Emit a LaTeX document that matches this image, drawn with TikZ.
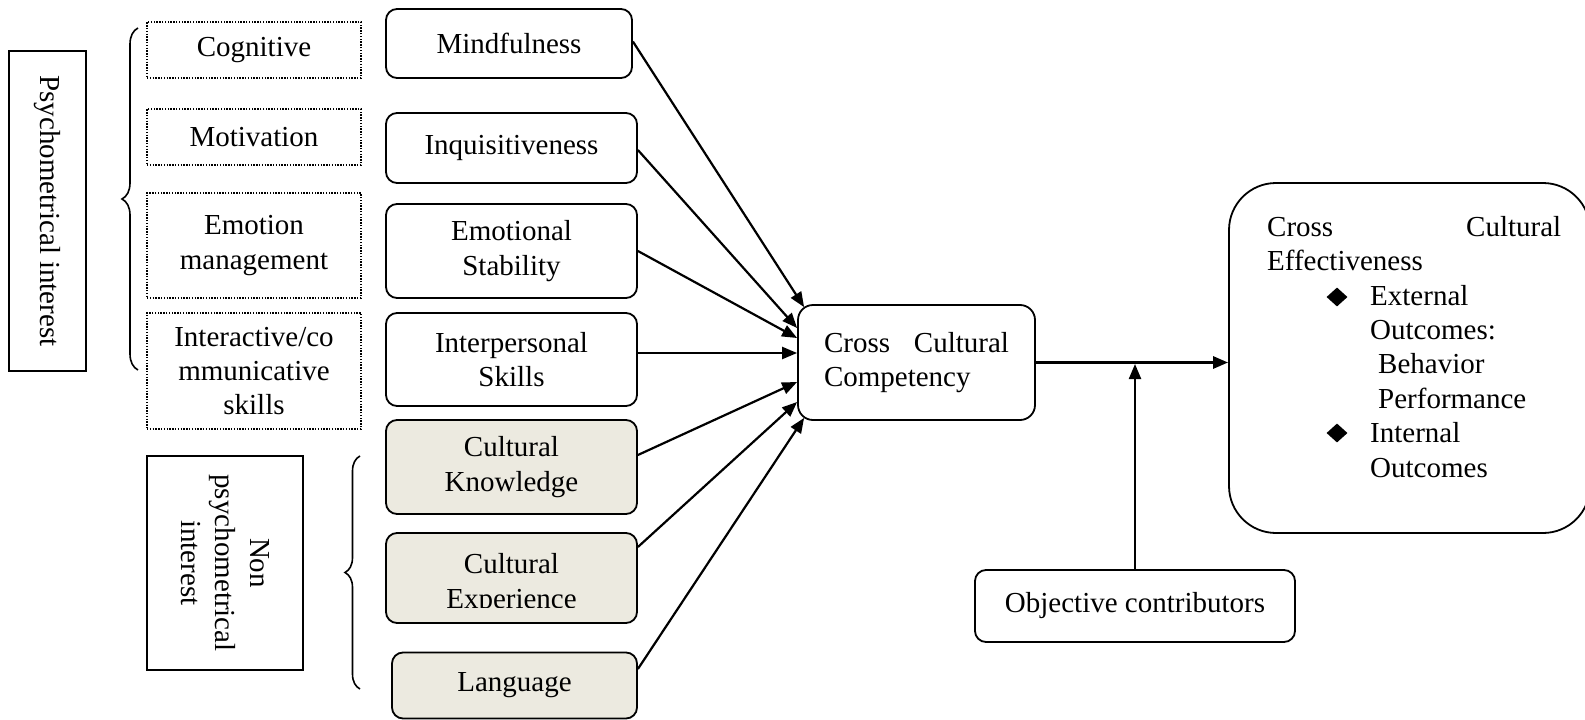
\documentclass[tikz,border=0pt]{standalone}
\usepackage{fontspec}
\setmainfont{Liberation Serif}
\usetikzlibrary{arrows.meta,decorations.pathreplacing,calc,shapes.geometric}
\definecolor{beige}{RGB}{236,234,224}
\tikzset{
  dotbox/.style={draw, line width=1.4pt, dash pattern=on 1.4pt off 1.4pt,
    align=center, inner sep=0pt, minimum width=214pt},
  rbox/.style={draw, line width=1.8pt, rounded corners=11pt, align=center,
    inner sep=0pt},
  culturebox/.style={rbox, fill=beige},
  framebox/.style={draw, line width=1.6pt, align=center, inner sep=0pt, rotate=-90},
  arr/.style={line width=2.2pt, -{Triangle[length=15pt,width=12pt]}},
  bracket/.style={decorate, line width=1.6pt},
  bullet/.style={diamond, fill=black, inner sep=0pt, minimum width=21pt,
    minimum height=19pt},
}
\begin{document}
\begin{tikzpicture}[x=1pt, y=-1pt, font=\fontsize{29}{34.4}\selectfont]
\useasboundingbox (0,0) rectangle (1585,720);

% grouping labels
\node[framebox, minimum width=320pt, minimum height=77pt] (psy) at (47.5,211) {Psychometrical interest};
\node[framebox, minimum width=214pt, minimum height=156pt] (nonpsy) at (225,563) {Non\\psychometrical\\interest};

% braces
\draw[bracket, decoration={brace, amplitude=16pt}] (138,370) -- (138,28);
\draw[bracket, decoration={brace, amplitude=15pt}] (360,689) -- (360,456);

% psychometrical dimensions
\node[dotbox, minimum height=56pt] (cog) at (254,50) {Cognitive};
\node[dotbox, minimum height=56pt] (mot) at (254,137) {Motivation};
\node[dotbox, minimum height=105pt] (emman) at (254,245.5) {Emotion\\management};
\node[dotbox, minimum height=116pt] (inter) at (254,371) {Interactive/co\\mmunicative\\skills};

% factors
\node[rbox, minimum width=246pt, minimum height=69pt] (mind) at (509,43.5) {Mindfulness};
\node[rbox, minimum width=251pt, minimum height=70pt] (inq) at (511.5,148) {Inquisitiveness};
\node[rbox, minimum width=251pt, minimum height=94pt] (emo) at (511.5,251) {Emotional\\Stability};
\node[rbox, minimum width=251pt, minimum height=93pt] (ips) at (511.5,359.5) {Interpersonal\\Skills};
\node[culturebox, minimum width=251pt, minimum height=94pt] (ck) at (511.5,467) {Cultural\\Knowledge};
\node[culturebox, minimum width=251pt, minimum height=90pt] (cx) at (511.5,578) {};
\begin{scope}
  \clip (386,533) rectangle (637,607);
  \node[align=center, inner sep=0pt] (cxtext) at (511.5,584) {Cultural\\Experience};
\end{scope}
\node[culturebox, minimum width=245pt, minimum height=66pt] (lang) at (514.5,685.5) {Language};

% competency and outcome
\node[rbox, rounded corners=15pt, minimum width=237pt, minimum height=115pt,
  text width=185pt, align=left] (ccc) at (916.5,362.5)
  {\hbox to 185pt{Cross\hfill Cultural}\\Competency};
\node[draw, line width=1.8pt, rounded corners=47pt, minimum width=361pt,
  minimum height=350pt] (cce) at (1409.5,358) {};
\node[anchor=north west, align=left, inner sep=0pt] (ccetext) at (1267,216)
  {\hbox to 294pt{Cross\hfill Cultural}\\
   Effectiveness\\
   \hspace*{103pt}External\\
   \hspace*{103pt}Outcomes:\\
   \hspace*{111pt}Behavior\\
   \hspace*{111pt}Performance\\
   \hspace*{103pt}Internal\\
   \hspace*{103pt}Outcomes};
\node[bullet] (b1) at (1337,297) {};
\node[bullet] (b2) at (1337,433) {};
\node[rbox, minimum width=320pt, minimum height=72pt] (obj) at (1135,606) {Objective contributors};

% connectors into the competency box
\draw[arr] ([yshift=2pt]mind.east) -- ([xshift=7pt,yshift=-3pt]ccc.north west);
\draw[arr] ([yshift=-2pt]inq.east) -- ([yshift=34.5pt]ccc.west);
\draw[arr] (emo.east) -- ([yshift=24.5pt]ccc.west);
\draw[arr] ([yshift=6.5pt]ips.east) -- ([yshift=9.5pt]ccc.west);
\draw[arr] ([yshift=12pt]ck.east) -- ([yshift=-19.5pt]ccc.west);
\draw[arr] ([yshift=31pt]cx.east) -- ([yshift=-39.5pt]ccc.west);
\draw[arr] ([yshift=16.5pt]lang.east) -- ([xshift=7pt,yshift=3pt]ccc.south west);

% competency to effectiveness, moderated by objective contributors
\coordinate (join) at (ccc.east -| obj.north);
\draw[arr, line width=2.8pt] (ccc.east) -- (ccc.east -| cce.west);
\draw[arr, shorten >=1.5pt] (obj.north) -- (join);
\end{tikzpicture}
\end{document}
